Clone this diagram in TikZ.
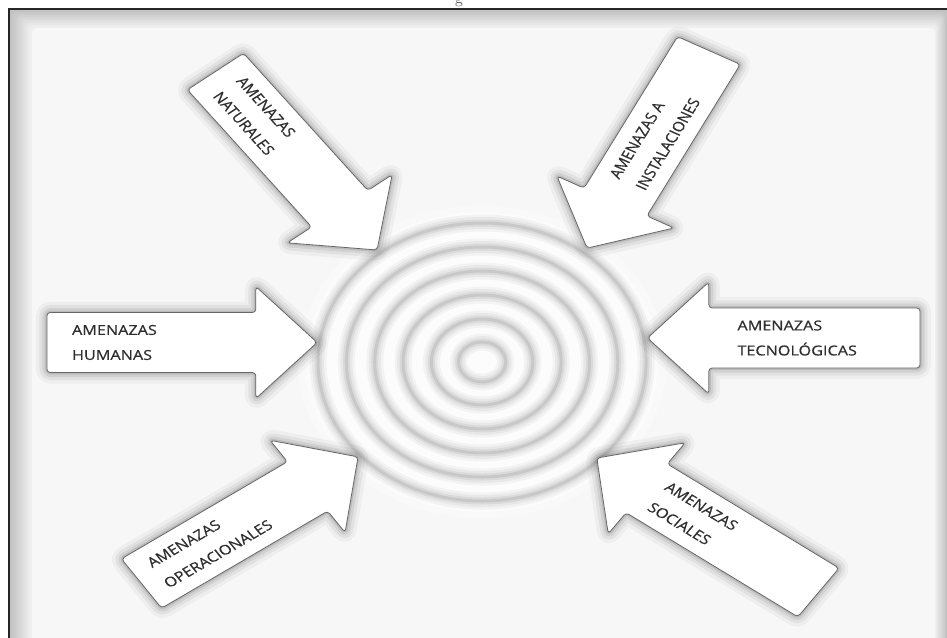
\documentclass[tikz,border=0pt]{standalone}
\usepackage{fontspec}
\newfontfamily\lblfont[FakeBold=0.5]{Open Sans}

% One threat arrow: #1 tail point, #2 direction, #3 length,
% #4 distance of the label start from the tail, #5 label turn, #6 node name, #7 label
\newcommand{\threat}[7]{%
  \begin{scope}[shift={#1}, rotate=#2]
    \foreach \w/\o in {22/0.035, 15/0.05, 9/0.07, 4/0.10}
      \draw[glow, line width=\w*0.75pt, opacity=\o]
        (0,-30) -- (#3-52,-30) -- (#3-52,-56) -- (#3,0) -- (#3-52,56) -- (#3-52,30) -- (0,30) -- cycle;
    \draw[arrowbody]
      (0,-30) -- (#3-52,-30) -- (#3-52,-56) -- (#3,0) -- (#3-52,56) -- (#3-52,30) -- (0,30) -- cycle;
    \node[lbl, anchor=west, rotate=#5] (#6) at (#4,0) {#7};
  \end{scope}}

\begin{document}
\begin{tikzpicture}[x=0.75pt, y=-0.75pt,
  lbl/.style={font=\lblfont\fontsize{10.3}{18.75}\selectfont, text=black!82,
              align=left, inner sep=0pt, transform shape},
  arrowbody/.style={fill=white, draw=black!60, line width=0.6pt,
                    rounded corners=2.5pt, line join=round},
  glow/.style={draw=black, rounded corners=2.5pt, line join=round},
  groove/.style={draw=black}
]
\useasboundingbox (0,0) rectangle (947,637);
\fill[white] (0,0) rectangle (947,637);

% end of the caption line above the sheet, cut by its edge
\begin{scope}
  \clip (0,0) rectangle (947,9);
  \node[font=\fontsize{12}{12}\selectfont, text=black!70, anchor=base, inner sep=0pt]
    (capfrag) at (459,3) {g};
\end{scope}

% sheet with its shaded rim
\fill[black!24] (10,10) rectangle (950,640);
\foreach \i in {0,...,9}{
  \pgfmathsetmacro\shade{22-1.8*\i}
  \fill[black!\shade, rounded corners=3pt] (12+2*\i,12+1.6*\i) rectangle (946-1.1*\i,645);
}
\fill[black!3, rounded corners=4pt] (32,28) rectangle (935,645);
\draw[black!85, line width=1.2pt] (9,645) -- (9,9) -- (950,9);

\begin{scope}[xscale=1.18]
  % concentric rings in the middle
  \coordinate (core) at (408.5,362);
  \foreach \r in {156,150,145}
    \fill[white, opacity=0.35] (core) circle[radius=\r];
  \foreach \r in {20,43,67,91,115,139}{
    \foreach \w/\o in {17/0.035, 12/0.045, 7/0.06, 3/0.08}
      \draw[groove, opacity=\o, line width=\w*0.75pt] (core) circle[radius=\r];
  }

  % threat arrows pointing at the rings
  \threat{(182.6,71.5)}{-52.5}{225}{18}{0}{natural}{AMENAZAS\\NATURALES}
  \threat{(600.8,50.5)}{-117.6}{223}{150}{180}{install}{AMENAZAS A\\INSTALACIONES}
  \threat{(39.8,342.5)}{0}{229}{21}{0}{human}{AMENAZAS\\HUMANAS}
  \threat{(779.7,338)}{180}{231}{155}{180}{tech}{AMENAZAS\\TECNOLÓGICAS}
  \threat{(119.9,583.5)}{34.6}{223}{16}{0}{operate}{AMENAZAS\\OPERACIONALES}
  \threat{(693.6,592.5)}{144.4}{231}{167}{180}{social}{AMENAZAS\\SOCIALES}
\end{scope}
\end{tikzpicture}
\end{document}
